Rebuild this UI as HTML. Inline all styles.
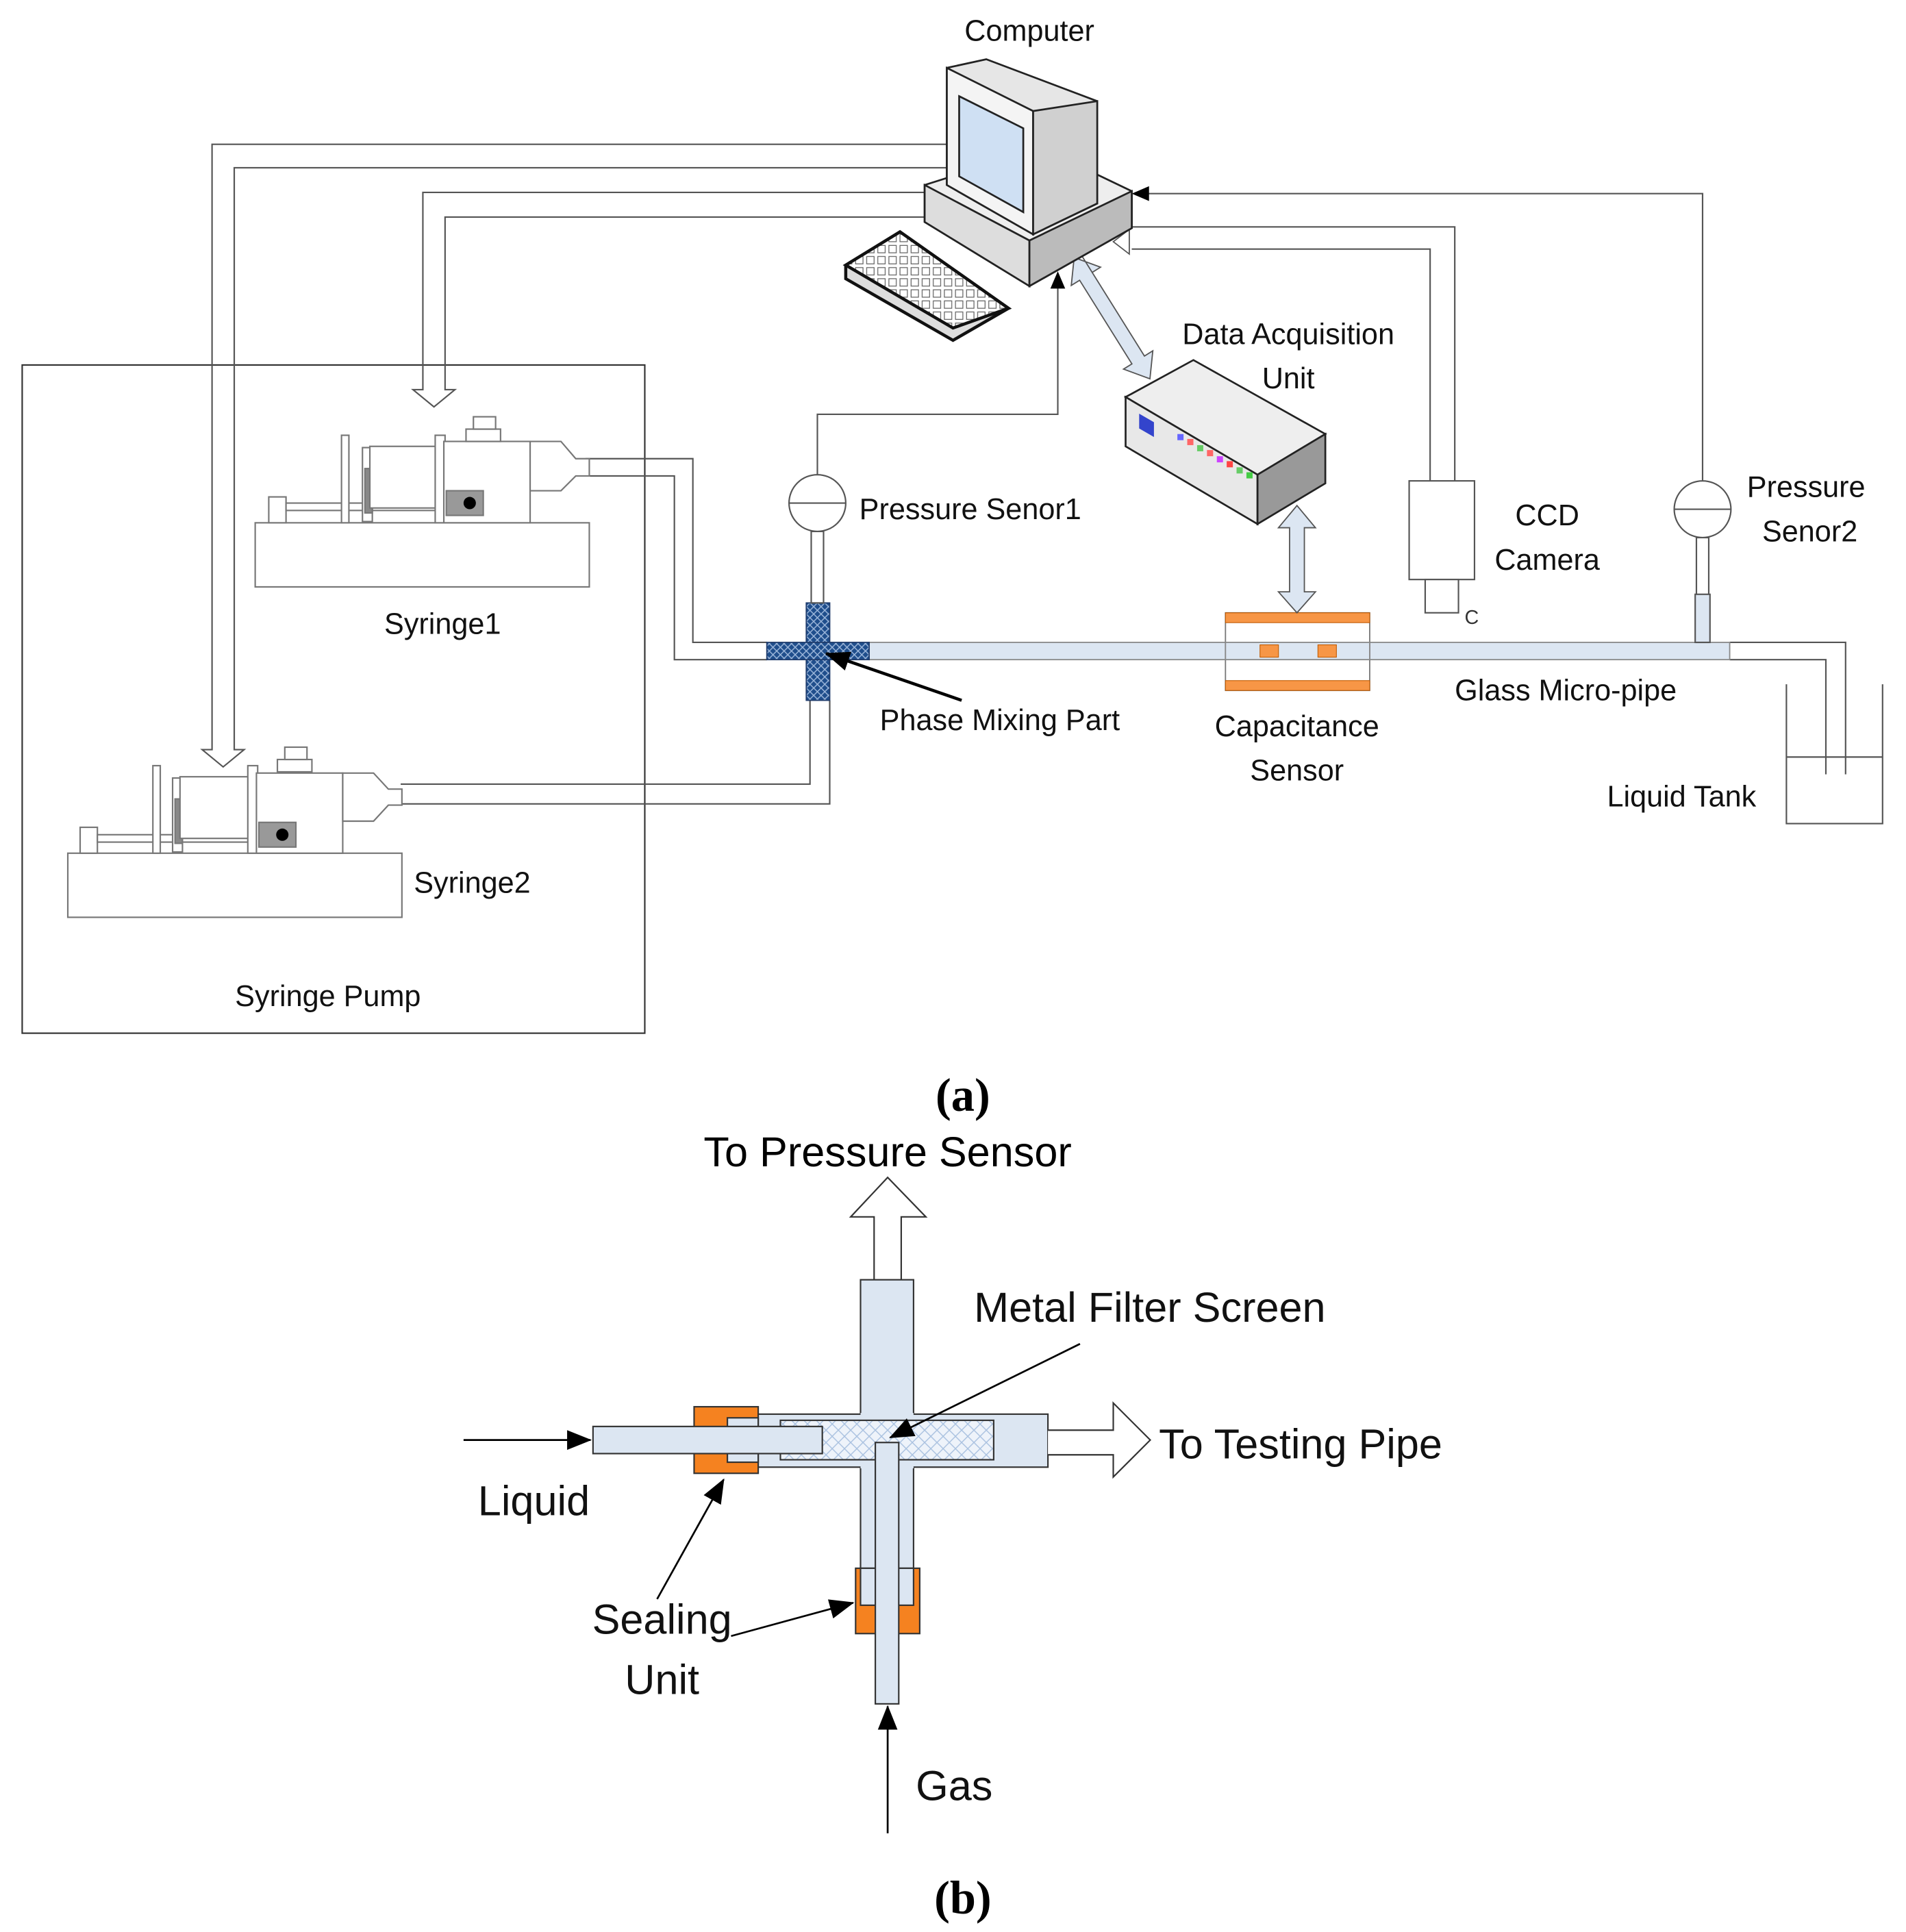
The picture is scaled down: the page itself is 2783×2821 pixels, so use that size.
<!DOCTYPE html>
<html><head><meta charset="utf-8"><style>html,body{margin:0;padding:0;background:#fff}svg{display:block}</style></head>
<body>
<svg width="2783" height="2821" viewBox="0 0 1546 1567" xmlns="http://www.w3.org/2000/svg" font-family="Liberation Sans, sans-serif">
<defs>
<marker id="ah" markerWidth="10" markerHeight="10" refX="9" refY="5" orient="auto" markerUnits="userSpaceOnUse"><path d="M0,0 L10,5 L0,10 z" fill="#000"/></marker>
<marker id="ah2" markerWidth="20" markerHeight="16" refX="19" refY="8" orient="auto" markerUnits="userSpaceOnUse"><path d="M0,0 L20,8 L0,16 z" fill="#000"/></marker>
<pattern id="mix" width="6" height="6" patternUnits="userSpaceOnUse"><rect width="6" height="6" fill="#1f4e8c"/><path d="M0,0 L6,6 M6,0 L0,6" stroke="#9fb9dc" stroke-width="0.8"/></pattern>
<pattern id="mesh" width="10" height="10" patternUnits="userSpaceOnUse"><rect width="10" height="10" fill="#eef3fa"/><path d="M0,0 L10,10 M10,0 L0,10" stroke="#a9c1e0" stroke-width="0.8"/></pattern>
<pattern id="keys" width="9" height="9" patternUnits="userSpaceOnUse"><rect width="9" height="9" fill="#fff"/><rect x="1" y="1" width="6" height="6" fill="#fff" stroke="#666" stroke-width="0.7"/></pattern>
</defs>
<g fill="none" stroke="#555" stroke-width="1.2">
<rect x="18" y="296" width="505" height="542" stroke="#333"/>
<path d="M768,117 H172 V608 H164 L181,622 L198,608 H190 V136 H768"/>
<path d="M768,156 H343 V316 H335 L352,330 L369,316 H361 V176 H768"/>
<path d="M475,372 H562 V521 H622 M475,386 H547 V535 H622"/>
<path d="M325,636 H657 V568 M325,652 H673 V568"/>
<path d="M663,385 V336 H858 V232"/>
<path d="M1381,390 V157 H930"/>
<path d="M1160,390 V202 H918 M1180,390 V184 H918"/>
<path d="M1403,521 H1497 V628 M1403,535 H1481 V628"/>
<path d="M1449,555 V668 H1527 V555 M1449,614 H1527"/>
</g>
<path d="M858,220 L852,234 L864,234 z" fill="#000"/>
<path d="M918,157 L932,151 L932,163 z" fill="#000"/>
<path d="M903,196 L916,186 L916,206 z" fill="#fff" stroke="#555"/>
<g stroke="#777" stroke-width="1.2" fill="#fff">
<rect x="207" y="424" width="271" height="52"/>
<rect x="218" y="403" width="14" height="21"/>
<rect x="232" y="408" width="130" height="6"/>
<rect x="277" y="353" width="6" height="71"/>
<rect x="294" y="363" width="8" height="60"/>
<rect x="296" y="380" width="6" height="36" fill="#888"/>
<rect x="300" y="362" width="60" height="50"/>
<rect x="353" y="353" width="8" height="71"/>
<rect x="360" y="358" width="70" height="66"/>
<rect x="362" y="398" width="30" height="20" fill="#999"/>
<rect x="378" y="348" width="28" height="10"/>
<rect x="384" y="338" width="18" height="10"/>
<path d="M430,358 H455 L467,372 H478 V386 H467 L455,398 H430 z"/>
</g>
<circle cx="381" cy="408" r="5" fill="#000"/>
<g stroke="#777" stroke-width="1.2" fill="#fff">
<rect x="55" y="692" width="271" height="52"/>
<rect x="65" y="671" width="14" height="21"/>
<rect x="79" y="677" width="130" height="6"/>
<rect x="124" y="621" width="6" height="71"/>
<rect x="140" y="631" width="8" height="60"/>
<rect x="142" y="648" width="6" height="36" fill="#888"/>
<rect x="146" y="630" width="60" height="50"/>
<rect x="201" y="621" width="8" height="71"/>
<rect x="208" y="627" width="70" height="65"/>
<rect x="210" y="667" width="30" height="20" fill="#999"/>
<rect x="225" y="616" width="28" height="10"/>
<rect x="231" y="606" width="18" height="10"/>
<path d="M278,627 H303 L315,640 H326 V653 H315 L303,666 H278 z"/>
</g>
<circle cx="229" cy="677" r="5" fill="#000"/>
<rect x="705" y="521" width="698" height="14" fill="#dce6f2" stroke="#888"/>
<rect x="654" y="489" width="19" height="79" fill="url(#mix)" stroke="#1f3c6c"/>
<rect x="622" y="521" width="83" height="14" fill="url(#mix)" stroke="#1f3c6c"/>
<g stroke="#555" stroke-width="1.2" fill="#fff">
<rect x="658" y="431" width="10" height="58"/>
<circle cx="663" cy="408" r="23"/><line x1="640" y1="408" x2="686" y2="408"/>
<rect x="1376" y="436" width="10" height="85"/>
<rect x="1375" y="482" width="12" height="39" fill="#dce6f2"/>
<circle cx="1381" cy="413" r="23"/><line x1="1358" y1="413" x2="1404" y2="413"/>
<rect x="1143" y="390" width="53" height="80"/>
<rect x="1156" y="470" width="27" height="27"/>
</g>
<text x="1188" y="506" font-size="16" fill="#333">C</text>
<rect x="994" y="497" width="117" height="63" fill="#fff" stroke="#777"/>
<rect x="994" y="497" width="117" height="8" fill="#f79646" stroke="#c05a00" stroke-width="0.6"/>
<rect x="994" y="552" width="117" height="8" fill="#f79646" stroke="#c05a00" stroke-width="0.6"/>
<rect x="994" y="521" width="117" height="14" fill="#dce6f2" stroke="#888"/>
<rect x="1022" y="523" width="15" height="10" fill="#f79646" stroke="#c05a00" stroke-width="0.6"/>
<rect x="1069" y="523" width="15" height="10" fill="#f79646" stroke="#c05a00" stroke-width="0.6"/>
<path d="M1046,428 H1037 L1052,410 L1067,428 H1058 V480 H1067 L1052,497 L1037,480 H1046 z" fill="#dce6f2" stroke="#555"/>
<g transform="translate(902,258) rotate(58)">
<path d="M-56,-6 H-40 V-14 L-58,0 L-40,14 V6 H40 V14 L58,0 L40,-14 V-6 z" fill="#dce6f2" stroke="#555"/>
</g>
<g stroke="#222" stroke-width="1.5">
<path d="M913,322 L968,292 L1075,352 L1020,385 z" fill="#eee"/>
<path d="M913,322 L1020,385 L1020,425 L913,362 z" fill="#e8e8e8"/>
<path d="M1020,385 L1075,352 L1075,392 L1020,425 z" fill="#999"/>
</g>
<rect x="924" y="334" width="12" height="12" fill="#3344cc" transform="skewY(30) translate(0,-532)"/>
<g>
<rect x="955" y="352" width="5" height="5" fill="#66f"/><rect x="963" y="356" width="5" height="5" fill="#f66"/><rect x="971" y="361" width="5" height="5" fill="#6c6"/><rect x="979" y="365" width="5" height="5" fill="#f66"/><rect x="987" y="370" width="5" height="5" fill="#c4f"/><rect x="995" y="374" width="5" height="5" fill="#f44"/><rect x="1003" y="379" width="5" height="5" fill="#6c6"/><rect x="1011" y="383" width="5" height="5" fill="#4c4"/>
</g>
<g stroke="#222" stroke-width="1.5">
<path d="M750,150 L845,120 L918,155 L918,185 L835,232 L750,180 z" fill="#eee"/>
<path d="M750,150 L835,195 L835,232 L750,180 z" fill="#ddd"/>
<path d="M835,195 L918,155 L918,185 L835,232 z" fill="#bbb"/>
<path d="M768,55 L800,48 L890,82 L890,165 L838,190 L768,150 z" fill="#e6e6e6"/>
<path d="M768,55 L838,90 L838,190 L768,150 z" fill="#f4f4f4"/>
<path d="M778,78 L830,104 L830,172 L778,143 z" fill="#cfe0f3"/>
<path d="M838,90 L890,82 L890,165 L838,190 z" fill="#d0d0d0"/>
</g>
<g stroke="#111" stroke-width="2.5">
<path d="M686,215 L730,188 L818,250 L773,276 L686,226 z" fill="#ddd"/>
<path d="M686,215 L730,188 L818,250 L773,266 z" fill="url(#keys)"/>
</g>
<line x1="780" y1="568" x2="670" y2="530" stroke="#000" stroke-width="2.5" marker-end="url(#ah2)"/>
<g font-size="24" fill="#111">
<text x="835" y="33" text-anchor="middle">Computer</text>
<text x="1045" y="279" text-anchor="middle">Data Acquisition</text>
<text x="1045" y="315" text-anchor="middle">Unit</text>
<text x="697" y="421">Pressure Senor1</text>
<text x="1255" y="426" text-anchor="middle">CCD</text>
<text x="1255" y="462" text-anchor="middle">Camera</text>
<text x="1465" y="403" text-anchor="middle">Pressure</text>
<text x="1468" y="439" text-anchor="middle">Senor2</text>
<text x="359" y="514" text-anchor="middle">Syringe1</text>
<text x="811" y="592" text-anchor="middle">Phase Mixing Part</text>
<text x="1052" y="597" text-anchor="middle">Capacitance</text>
<text x="1052" y="633" text-anchor="middle">Sensor</text>
<text x="1270" y="568" text-anchor="middle">Glass Micro-pipe</text>
<text x="1364" y="654" text-anchor="middle">Liquid Tank</text>
<text x="383" y="724" text-anchor="middle">Syringe2</text>
<text x="266" y="816" text-anchor="middle">Syringe Pump</text>
</g>
<text x="781" y="901" font-family="Liberation Serif, serif" font-weight="bold" font-size="38" text-anchor="middle">(a)</text>
<text x="720" y="946" font-size="34" text-anchor="middle">To Pressure Sensor</text>
<path d="M709,1038 V987 H690 L720,955 L751,987 H731 V1038" fill="#fff" stroke="#333" stroke-width="1.2"/>
<g stroke="#333" stroke-width="1.2">
<rect x="698" y="1038" width="43" height="262" fill="#dce6f2"/>
<rect x="590" y="1147" width="260" height="43" fill="#dce6f2"/>
<rect x="698" y="1146" width="43" height="45" fill="#dce6f2" stroke="none"/>
<rect x="633" y="1152" width="173" height="32" fill="url(#mesh)"/>
<rect x="563" y="1141" width="52" height="54" fill="#f58220"/>
<rect x="590" y="1150" width="25" height="36" fill="#dce6f2"/>
<rect x="481" y="1157" width="186" height="22" fill="#dce6f2"/>
<rect x="694" y="1272" width="52" height="53" fill="#f58220"/>
<rect x="698" y="1272" width="43" height="30" fill="#dce6f2"/>
<rect x="710" y="1170" width="19" height="212" fill="#dce6f2"/>
<path d="M850,1160 H903 V1138 L933,1168 L903,1198 V1180 H850" fill="#fff"/>
</g>
<g stroke="#000" stroke-width="1.5" fill="none">
<line x1="876" y1="1090" x2="722" y2="1166" marker-end="url(#ah2)"/>
<line x1="376" y1="1168" x2="479" y2="1168" marker-end="url(#ah2)"/>
<line x1="533" y1="1297" x2="587" y2="1200" marker-end="url(#ah2)"/>
<line x1="593" y1="1327" x2="692" y2="1300" marker-end="url(#ah2)"/>
<line x1="720" y1="1487" x2="720" y2="1384" marker-end="url(#ah2)"/>
</g>
<g font-size="34" fill="#111">
<text x="790" y="1072">Metal Filter Screen</text>
<text x="940" y="1183">To Testing Pipe</text>
<text x="433" y="1229" text-anchor="middle">Liquid</text>
<text x="537" y="1325" text-anchor="middle">Sealing</text>
<text x="537" y="1374" text-anchor="middle">Unit</text>
<text x="774" y="1460" text-anchor="middle">Gas</text>
</g>
<text x="781" y="1552" font-family="Liberation Serif, serif" font-weight="bold" font-size="38" text-anchor="middle">(b)</text>
</svg>
</body></html>
